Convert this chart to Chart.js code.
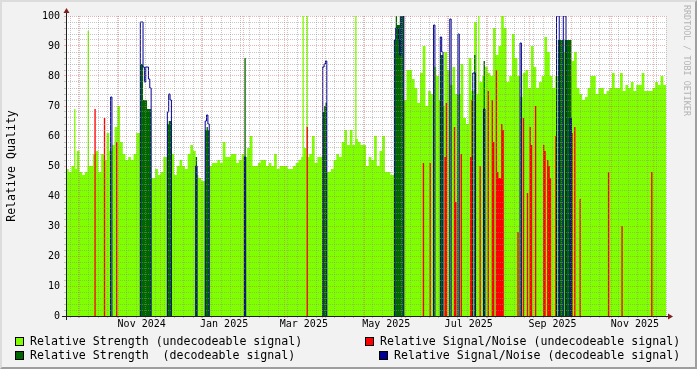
<!DOCTYPE html>
<html>
<head>
<meta charset="utf-8">
<script src="https://cdn.jsdelivr.net/npm/chart.js@4.4.1/dist/chart.umd.min.js"></script>
<style>
  html, body { margin: 0; padding: 0; }
  body { width: 697px; height: 369px; background: #f2f2f2; position: relative; overflow: hidden;
         font-family: "DejaVu Sans Mono", monospace; }
  .frame { position: absolute; left: 0; top: 0; width: 693px; height: 365px;
           border-top: 2px solid #dcdcdc; border-left: 2px solid #dcdcdc;
           border-right: 2px solid #9e9e9e; border-bottom: 2px solid #9e9e9e; }
  #chart { position: absolute; left: 0; top: 0; }
  .legend { position: absolute; font-size: 11.6px; line-height: 14px; color: #000; white-space: pre; }
  .legend i { position: absolute; left: -15px; top: 3px; width: 7px; height: 7px; border: 1px solid #000; }
  .credit { position: absolute; left: 682px; top: 5px; writing-mode: vertical-rl; font-size: 8.4px;
            line-height: 10px; color: #b4b4b4; white-space: pre; }
</style>
</head>
<body>
<div class="frame"></div>
<canvas id="chart" width="697" height="369"></canvas>
<div class="legend" style="left:30px; top:334px;"><i style="background:#80ff00"></i>Relative Strength (undecodeable signal)</div>
<div class="legend" style="left:30px; top:348px;"><i style="background:#006600"></i>Relative Strength  (decodeable signal)</div>
<div class="legend" style="left:380px; top:334px;"><i style="background:#ff0000"></i>Relative Signal/Noise (undecodeable signal)</div>
<div class="legend" style="left:394px; top:348px;"><i style="background:#000090"></i>Relative Signal/Noise (decodeable signal)</div>
<div class="credit">RRDTOOL / TOBI OETIKER</div>
<script>
// day 0 = 6 Sep 2024, last day = 24 Nov 2025
const TOTAL_DAYS = 444;
const BIN_DAYS = 2;

// relative strength, undecodeable signal (one value per 2 days)
const strengthUndecodeable = [
  49, 48, 50, 49, 55, 48, 47, 48, 50, 50,
  54, 55, 48, 54, 52, 61, 55, 57, 63, 70,
  58, 54, 52, 53, 52, 54, 61, 61, 0, 0,
  0, 46, 46, 49, 47, 48, 53, 53, 0, 54,
  47, 50, 52, 50, 49, 54, 57, 55, 47, 46,
  45, 45, 0, 50, 51, 51, 52, 51, 58, 53,
  53, 54, 54, 51, 52, 54, 53, 56, 60, 50,
  50, 51, 52, 52, 50, 51, 50, 54, 49, 50,
  50, 50, 49, 49, 50, 51, 52, 53, 56, 53,
  54, 60, 51, 53, 53, 0, 48, 48, 49, 52,
  54, 53, 58, 62, 57, 62, 57, 59, 58, 57,
  57, 50, 53, 52, 60, 50, 55, 60, 48, 48,
  47, 47, 0, 0, 0, 72, 82, 82, 79, 76,
  71, 81, 90, 70, 75, 74, 83, 80, 72, 70,
  88, 82, 77, 83, 74, 74, 84, 66, 64, 86,
  75, 98, 74, 78, 80, 83, 81, 80, 96, 87,
  90, 100, 96, 78, 80, 94, 86, 80, 73, 81,
  82, 76, 90, 83, 76, 78, 80, 93, 88, 80,
  76, 80, 88, 88, 88, 88, 80, 85, 88, 76,
  74, 72, 73, 76, 80, 80, 74, 76, 76, 74,
  75, 76, 81, 76, 76, 81, 75, 77, 76, 78,
  75, 77, 77, 81, 75, 75, 75, 76, 78, 77,
  80, 77
];
// single-day peaks of the same series
const strengthUndecodeablePeakDays = [6, 16, 175, 178, 214, 305];
const strengthUndecodeablePeaks = [69, 95, 100, 100, 100, 100];

// relative signal/noise, undecodeable signal (single days)
const snUndecodeableDays = [21, 28, 37, 178, 264, 269, 280, 281, 287, 288, 292, 299, 300, 306, 312, 315, 316, 318, 319, 320, 321,
  322, 323, 334, 338, 341, 343, 344, 347, 353, 354, 356, 357, 358, 362, 374, 376, 380, 401, 411, 433];
const snUndecodeable = [69, 66, 58, 63, 51, 51, 53, 71, 63, 38, 54, 53, 72, 50, 75, 72, 58, 82, 48, 46, 46,
  64, 62, 28, 66, 41, 63, 57, 70, 57, 55, 52, 50, 46, 60, 61, 63, 39, 48, 30, 48];

// relative strength, decodeable signal (runs of days: first day + daily values)
const strengthDecodeableStart = [55, 75, 96, 103, 132, 190, 243, 277, 302, 309, 364, 369];
const strengthDecodeable = [
  [84, 84, 72, 72, 72, 69, 69, 69], [64, 65, 65], [53], [62, 63, 62], [86], [68, 70, 71],
  [92, 100, 97, 97, 100, 100, 100], [87, 87], [87], [85], [92, 92, 92, 92], [92, 92, 92, 92, 92]
];

// relative signal/noise, decodeable signal
const snDecodeableStart = [33, 55, 75, 96, 103, 132, 190, 243, 272, 277, 284, 290, 301, 309, 336, 363, 368, 373];
const snDecodeable = [
  [73], [98, 98, 83, 78, 83, 83, 79, 76], [68, 74, 72], [50], [65, 67, 64], [53], [83, 84, 85],
  [92, 96, 96, 92, 87, 100, 100], [97], [93, 88], [99], [94], [81, 81], [69], [91], [100, 100], [100, 100], [66]
];

// x axis
const monthLabels = ['Nov 2024', 'Jan 2025', 'Mar 2025', 'May 2025', 'Jul 2025', 'Sep 2025', 'Nov 2025'];
const monthLabelDays = [56, 117, 176, 237, 298, 360, 421];
const majorGridDays = [9, 39, 70, 100, 131, 162, 190, 221, 251, 282, 312, 343, 374, 404, 435];
const FIRST_MONDAY = 3;

const GREEN = '#80ff00';
const DARK_GREEN = '#006600';
const RED = '#ff0000';
const BLUE = '#000090';
const GRID = 'rgba(143,143,143,0.5)';
const MGRID = 'rgba(222,79,79,0.42)';
const AXIS = '#1f1f1f';
const ARROW = '#801f1f';
const FONT = 'DejaVu Sans Mono';

function binPoints(values, width) {
  const pts = values.map((v, i) => ({ x: i * width, y: v }));
  pts.push({ x: values.length * width, y: values[values.length - 1] });
  return pts;
}

function runPoints(starts, runs) {
  const pts = [{ x: 0, y: 0 }];
  starts.forEach((s, k) => {
    runs[k].forEach((v, j) => pts.push({ x: s + j, y: v }));
    pts.push({ x: s + runs[k].length, y: 0 });
  });
  pts.push({ x: TOTAL_DAYS, y: 0 });
  return pts;
}

function outlinePoints(starts, runs) {
  const pts = [];
  starts.forEach((s, k) => {
    pts.push({ x: s, y: 0 });
    runs[k].forEach((v, j) => pts.push({ x: s + j, y: v }));
    pts.push({ x: s + runs[k].length, y: 0 });
    pts.push({ x: s + runs[k].length, y: null });
  });
  return pts;
}

// x ticks: weekly minor grid, monthly major grid, labels every 2 months
const xTickInfo = new Map();
for (let d = FIRST_MONDAY; d <= TOTAL_DAYS; d += 7) xTickInfo.set(d, { minor: true });
majorGridDays.forEach(d => xTickInfo.set(d, Object.assign(xTickInfo.get(d) || {}, { major: true })));
monthLabelDays.forEach((d, i) => xTickInfo.set(d, Object.assign(xTickInfo.get(d) || {}, { label: monthLabels[i] })));
const xTickDays = [...xTickInfo.keys()].sort((a, b) => a - b);

const yTickValues = [];
for (let v = 0; v <= 100; v += 2) yTickValues.push(v);

function xGridColor(day) {
  const t = xTickInfo.get(day) || {};
  if (t.major) return MGRID;
  if (t.minor) return GRID;
  return 'rgba(0,0,0,0)';
}

const rrdFrame = {
  id: 'rrdFrame',
  beforeDraw(chart) {
    const { ctx, chartArea: a } = chart;
    ctx.save();
    ctx.fillStyle = '#ffffff';
    ctx.fillRect(a.left, a.top, a.right - a.left, a.bottom - a.top);
    ctx.restore();
  },
  afterDraw(chart) {
    const { ctx, chartArea: a } = chart;
    ctx.save();
    ctx.strokeStyle = AXIS;
    ctx.lineWidth = 1;
    ctx.beginPath();
    ctx.moveTo(a.left - 4, a.bottom + 0.5);
    ctx.lineTo(a.right + 4, a.bottom + 0.5);
    ctx.moveTo(a.left + 0.5, a.bottom + 4);
    ctx.lineTo(a.left + 0.5, a.top - 4);
    ctx.stroke();
    ctx.fillStyle = ARROW;
    ctx.beginPath();
    ctx.moveTo(a.right + 2, a.bottom - 2.5);
    ctx.lineTo(a.right + 7, a.bottom + 0.5);
    ctx.lineTo(a.right + 2, a.bottom + 3.5);
    ctx.fill();
    ctx.beginPath();
    ctx.moveTo(a.left - 2.5, a.top - 3);
    ctx.lineTo(a.left + 0.5, a.top - 8);
    ctx.lineTo(a.left + 3.5, a.top - 3);
    ctx.fill();
    ctx.restore();
  }
};

const areaStyle = color => ({
  stepped: true, fill: 'origin', backgroundColor: color,
  borderColor: 'rgba(0,0,0,0)', borderWidth: 0, pointRadius: 0
});

new Chart(document.getElementById('chart'), {
  type: 'line',
  data: {
    datasets: [
      Object.assign({ label: 'Relative Signal/Noise (decodeable signal)', data: outlinePoints(snDecodeableStart, snDecodeable),
        stepped: true, fill: false, borderColor: BLUE, borderWidth: 1, pointRadius: 0, order: 1 }),
      Object.assign(areaStyle(DARK_GREEN), { label: 'Relative Strength  (decodeable signal)',
        data: runPoints(strengthDecodeableStart, strengthDecodeable), order: 2 }),
      Object.assign(areaStyle(RED), { label: 'Relative Signal/Noise (undecodeable signal)',
        data: runPoints(snUndecodeableDays, snUndecodeable.map(v => [v])), order: 3 }),
      Object.assign(areaStyle(GREEN), { label: 'Relative Strength (undecodeable signal)',
        data: runPoints(strengthUndecodeablePeakDays, strengthUndecodeablePeaks.map(v => [v])), order: 4 }),
      Object.assign(areaStyle(GREEN), { label: 'Relative Strength (undecodeable signal)',
        data: binPoints(strengthUndecodeable, BIN_DAYS), order: 5 })
    ]
  },
  options: {
    responsive: false,
    animation: false,
    devicePixelRatio: 1,
    layout: { padding: { left: 0, top: 16, right: 31, bottom: 33 } },
    plugins: { legend: { display: false }, tooltip: { enabled: false } },
    scales: {
      x: {
        type: 'linear',
        min: 0,
        max: TOTAL_DAYS,
        afterBuildTicks: scale => { scale.ticks = xTickDays.map(d => ({ value: d })); },
        afterFit: scale => { scale.height = 20; },
        ticks: {
          autoSkip: false, maxRotation: 0, minRotation: 0, padding: 0,
          font: { family: FONT, size: 10 }, color: '#000',
          callback: v => (xTickInfo.get(v) || {}).label || ''
        },
        grid: { z: 1, lineWidth: 1, tickLength: 2,
          color: c => xGridColor(c.tick.value), tickColor: c => xGridColor(c.tick.value) },
        border: { display: false, dash: [1, 1] }
      },
      y: {
        min: 0,
        max: 100,
        afterBuildTicks: scale => { scale.ticks = yTickValues.map(v => ({ value: v })); },
        afterFit: scale => { scale.width = 66; },
        ticks: {
          autoSkip: false, padding: 4,
          font: { family: FONT, size: 10 }, color: '#000',
          callback: v => (v % 10 === 0 ? String(v) : '')
        },
        grid: { z: 1, lineWidth: 1, tickLength: 2,
          color: c => (c.tick.value % 10 === 0 ? MGRID : GRID),
          tickColor: c => (c.tick.value % 10 === 0 ? MGRID : GRID) },
        border: { display: false, dash: [1, 1] },
        title: { display: true, text: 'Relative Quality', color: '#000',
          font: { family: FONT, size: 11.6 }, padding: { top: 5, bottom: 0 } }
      }
    }
  },
  plugins: [rrdFrame]
});
</script>
</body>
</html>
